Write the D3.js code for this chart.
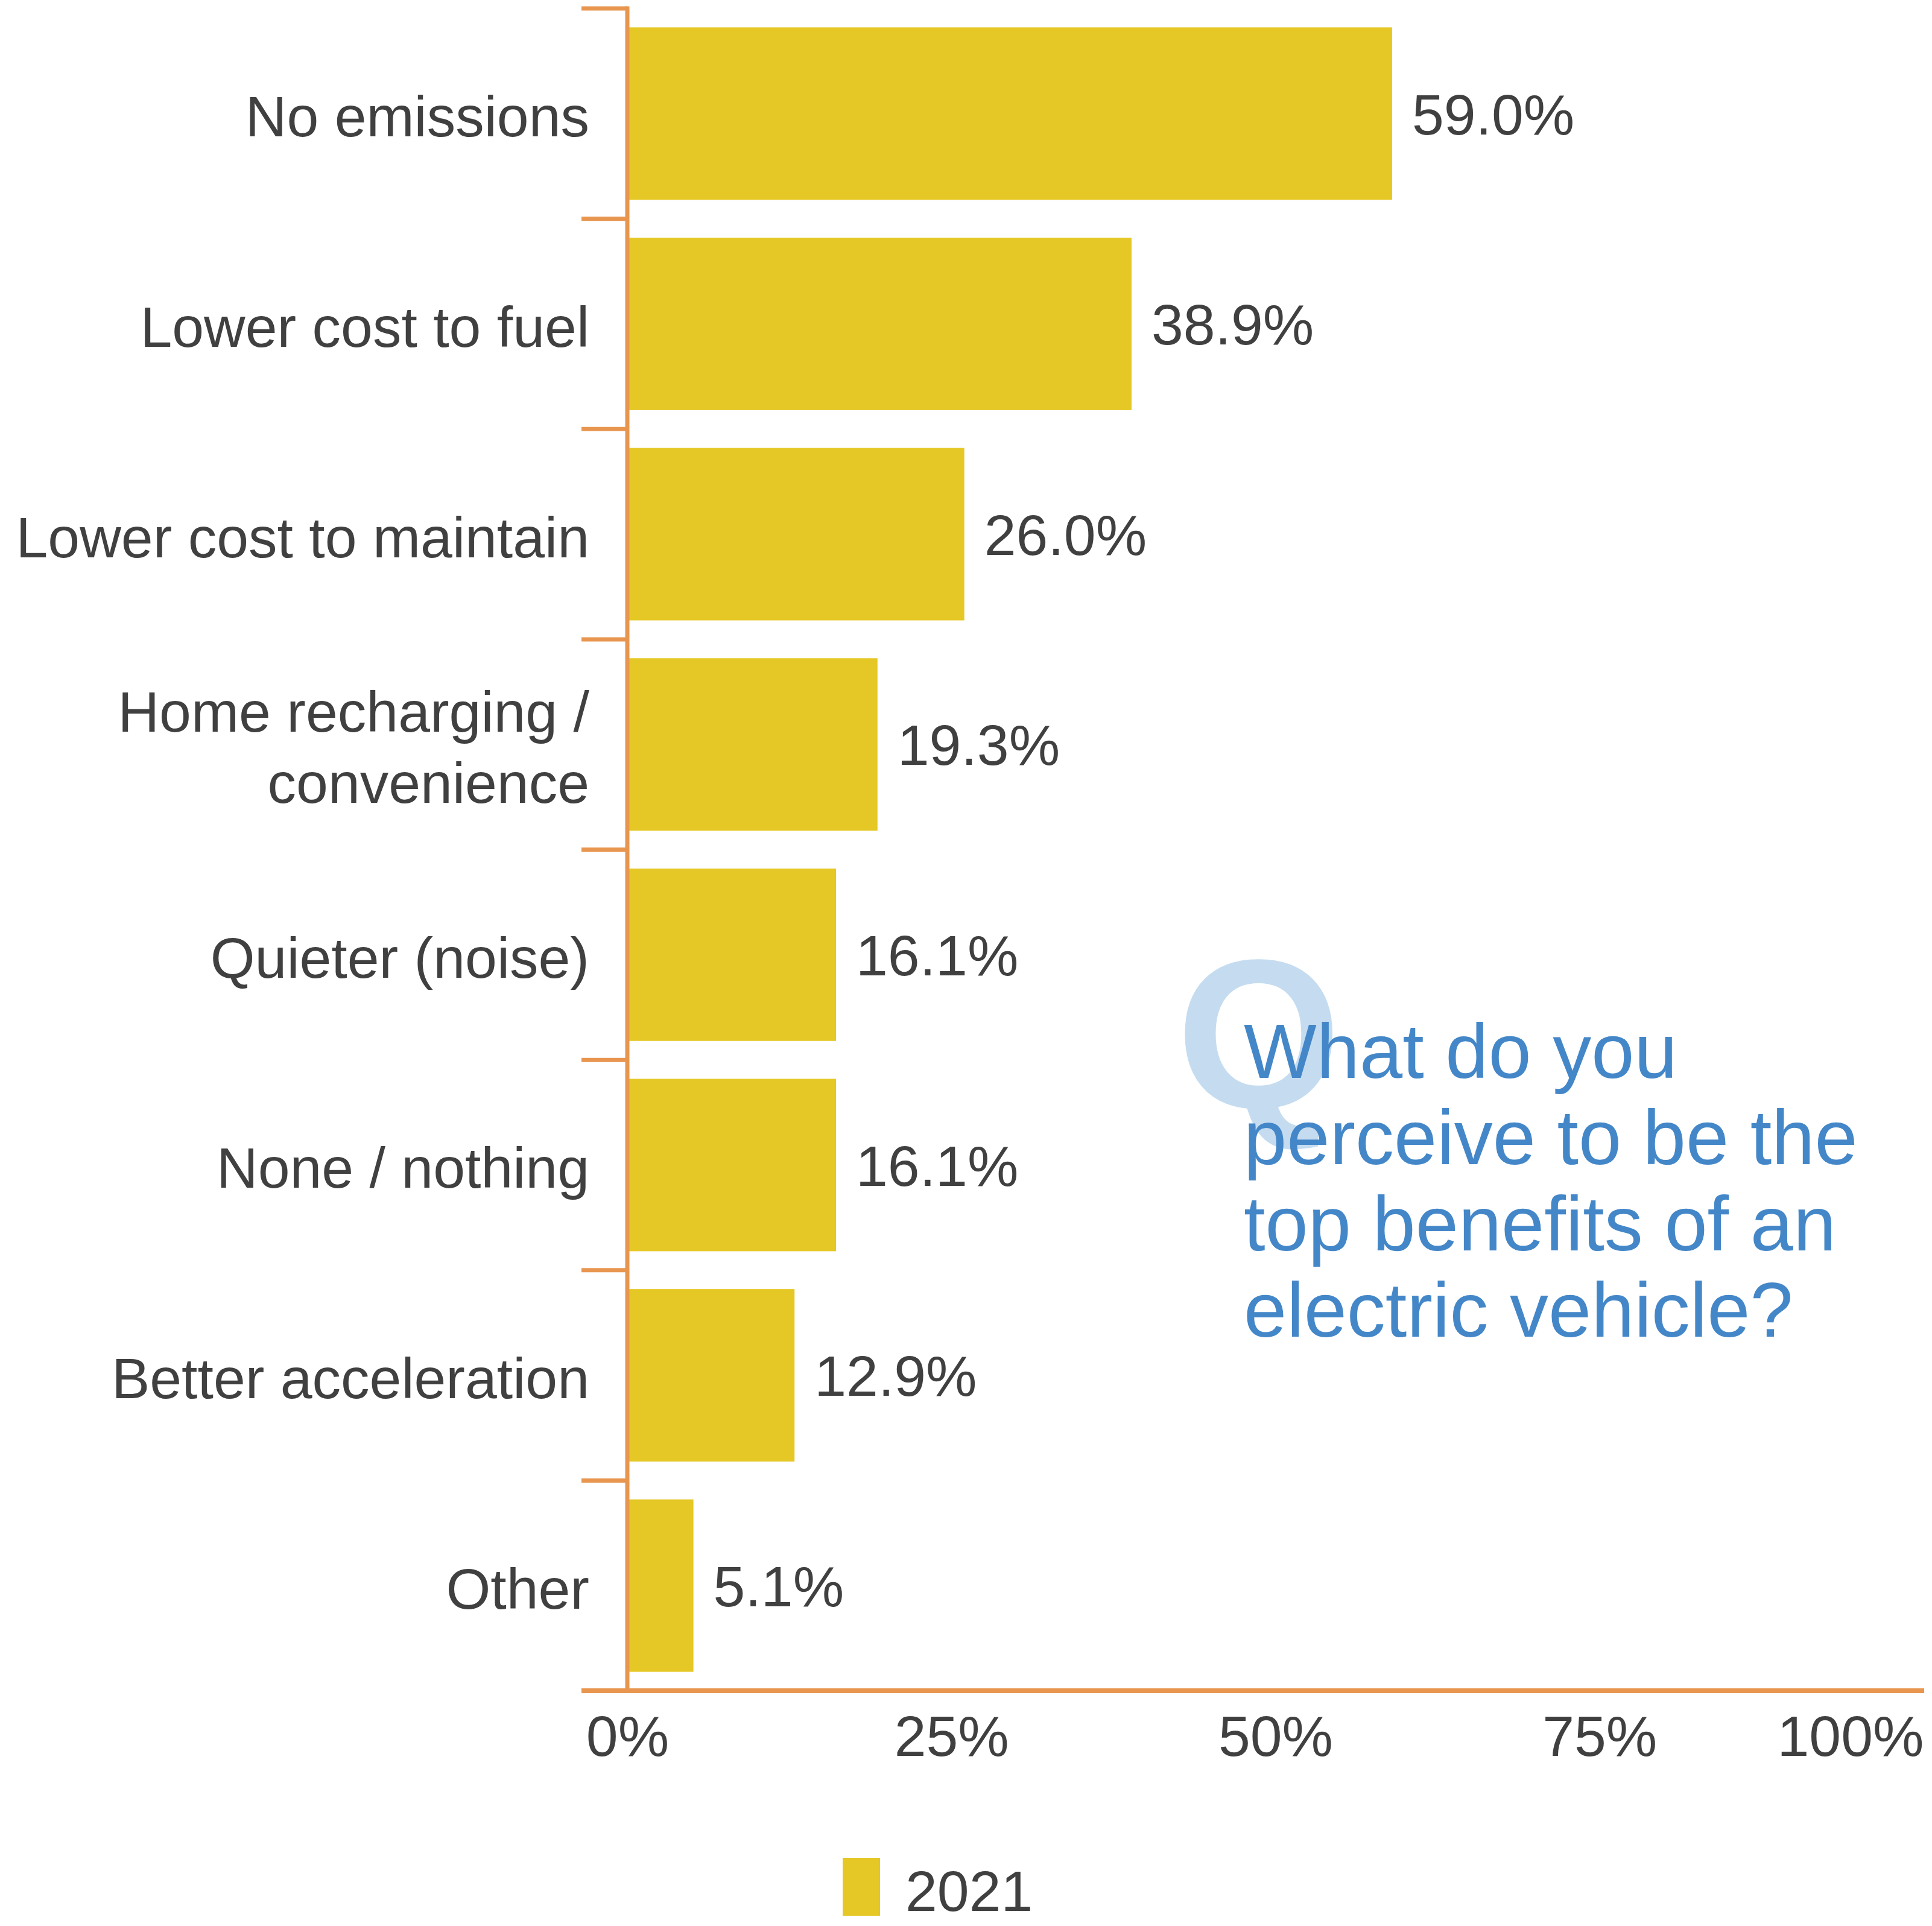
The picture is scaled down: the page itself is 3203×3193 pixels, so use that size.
<!DOCTYPE html>
<html>
<head>
<meta charset="utf-8">
<script src="https://cdn.jsdelivr.net/npm/d3@7"></script>
<style>
  html, body { margin: 0; padding: 0; background: #fff; }
  svg { display: block; }
</style>
</head>
<body>
<div id="chart"></div>
<script>
const categories = [
  ["No emissions"],
  ["Lower cost to fuel"],
  ["Lower cost to maintain"],
  ["Home recharging /", "convenience"],
  ["Quieter (noise)"],
  ["None / nothing"],
  ["Better acceleration"],
  ["Other"]
];
const values2021 = [59.0, 38.9, 26.0, 19.3, 16.1, 16.1, 12.9, 5.1];
const xTicks = [0, 25, 50, 75, 100];
const seriesName = "2021";
const questionLines = ["What do you", "perceive to be the", "top benefits of an", "electric vehicle?"];

const width = 3203;
const height = 3193;
const barColor = "#E5C826";
const axisColor = "#E8964F";
const textColor = "#404040";
const font = "'Liberation Sans', Arial, sans-serif";

const rows = categories.map((c, i) => ({ key: c.join(" "), lines: c, value: values2021[i] }));

const svg = d3.select("#chart").append("svg")
  .attr("width", width)
  .attr("height", height)
  .attr("font-family", font);

const x = d3.scaleLinear().domain([0, 100]).range([1040, 3189]);
const y = d3.scaleBand()
  .domain(rows.map((d) => d.key))
  .range([14, 2803])
  .paddingInner(0.18)
  .paddingOuter(0.09);

// question block (big Q sits behind the text)
svg.append("text")
  .attr("x", 1950)
  .attr("y", 1836)
  .attr("font-size", 352)
  .attr("font-weight", "bold")
  .attr("fill", "#C5DCF0")
  .text("Q");

const q = svg.append("text")
  .attr("x", 2062)
  .attr("y", 1787)
  .attr("font-size", 128)
  .attr("fill", "#4487C8");
q.selectAll("tspan").data(questionLines).join("tspan")
  .attr("x", 2062)
  .attr("dy", (d, i) => i === 0 ? 0 : 143)
  .text((d) => d);

// bars
svg.append("g").selectAll("rect").data(rows).join("rect")
  .attr("x", x(0))
  .attr("y", (d) => y(d.key))
  .attr("width", (d) => x(d.value) - x(0))
  .attr("height", y.bandwidth())
  .attr("fill", barColor);

// value labels
svg.append("g").selectAll("text").data(rows).join("text")
  .attr("x", (d) => x(d.value) + 33)
  .attr("y", (d) => y(d.key) + y.bandwidth() / 2)
  .attr("dy", "0.36em")
  .attr("font-size", 95)
  .attr("fill", textColor)
  .text((d) => d.value.toFixed(1) + "%");

// category labels
const labels = svg.append("g").selectAll("text").data(rows).join("text")
  .attr("text-anchor", "end")
  .attr("font-size", 95)
  .attr("fill", textColor)
  .attr("y", (d) => y(d.key) + y.bandwidth() / 2);
labels.selectAll("tspan").data((d) => d.lines.map((t, i) => ({ t, i, n: d.lines.length }))).join("tspan")
  .attr("x", 977)
  .attr("dy", (d) => d.i === 0 ? (0.4 - (d.n - 1) * 0.62) + "em" : "1.24em")
  .text((d) => d.t);

// y axis line and boundary ticks
const step = y.step();
const boundaries = rows.map((d) => y(d.key) - step * y.paddingInner() / 2);
boundaries.push(y.range()[1]);

svg.append("g").selectAll("line").data(boundaries.slice(0, -1)).join("line")
  .attr("x1", 964).attr("x2", x(0))
  .attr("y1", (d) => d).attr("y2", (d) => d)
  .attr("stroke", axisColor)
  .attr("stroke-width", 7);

svg.append("line")
  .attr("x1", x(0)).attr("x2", x(0))
  .attr("y1", boundaries[0] - 3.5).attr("y2", y.range()[1])
  .attr("stroke", axisColor)
  .attr("stroke-width", 7);

// x axis
svg.append("line")
  .attr("x1", 964).attr("x2", x(100) + 1)
  .attr("y1", y.range()[1]).attr("y2", y.range()[1])
  .attr("stroke", axisColor)
  .attr("stroke-width", 8);

const xAxis = svg.append("g")
  .attr("transform", `translate(0,${y.range()[1]})`)
  .call(d3.axisBottom(x).tickValues(xTicks).tickSize(0).tickPadding(0).tickFormat((d) => d + "%"));
xAxis.select(".domain").remove();
xAxis.selectAll("text")
  .attr("font-family", font)
  .attr("font-size", 95)
  .attr("fill", textColor)
  .attr("y", 108)
  .attr("dy", 0)
  .attr("text-anchor", (d) => d === 100 ? "end" : "middle");

// legend
const legend = svg.append("g");
legend.append("rect")
  .attr("x", 1397).attr("y", 3080)
  .attr("width", 62).attr("height", 96)
  .attr("fill", barColor);
legend.append("text")
  .attr("x", 1501).attr("y", 3168)
  .attr("font-size", 95)
  .attr("fill", textColor)
  .text(seriesName);
</script>
</body>
</html>
